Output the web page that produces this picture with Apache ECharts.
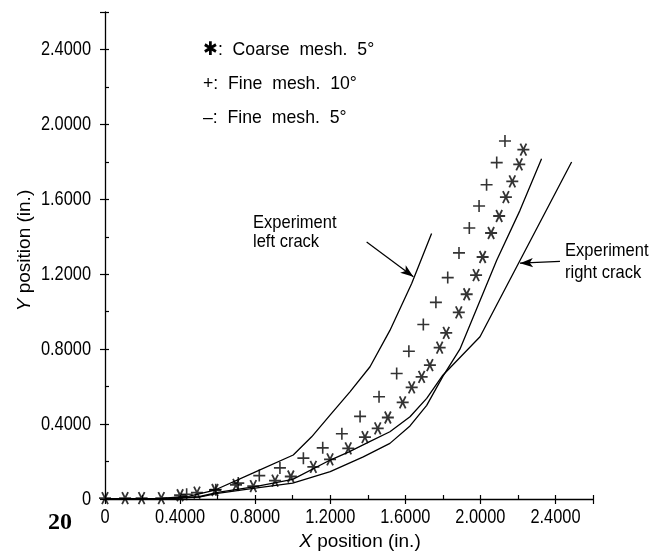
<!DOCTYPE html>
<html>
<head>
<meta charset="utf-8">
<script src="https://cdn.jsdelivr.net/npm/echarts@6/dist/echarts.min.js"></script>
<style>html,body{margin:0;padding:0;background:#fff;}#c{width:665px;height:555px;}</style>
</head>
<body>
<div id="c"></div>
<script>
// ---- data ----
const coarse5X = [0, 0.107, 0.195, 0.30, 0.40, 0.49, 0.586, 0.698, 0.79, 0.906, 0.99, 1.11, 1.199, 1.296, 1.385, 1.453, 1.507, 1.586, 1.634, 1.687, 1.731, 1.783, 1.818, 1.885, 1.927, 1.977, 2.012, 2.057, 2.10, 2.136, 2.17, 2.207, 2.229];
const coarse5Y = [0.005, 0.005, 0.005, 0.005, 0.02, 0.034, 0.048, 0.075, 0.069, 0.098, 0.12, 0.172, 0.212, 0.27, 0.33, 0.377, 0.435, 0.516, 0.596, 0.652, 0.715, 0.808, 0.887, 0.996, 1.093, 1.195, 1.292, 1.42, 1.511, 1.612, 1.696, 1.787, 1.865];

const fine10X = [0.435, 0.59, 0.71, 0.822, 0.932, 1.057, 1.16, 1.262, 1.359, 1.46, 1.554, 1.619, 1.696, 1.763, 1.826, 1.886, 1.941, 1.993, 2.033, 2.087, 2.131];
const fine10Y = [0.025, 0.05, 0.085, 0.125, 0.166, 0.218, 0.273, 0.348, 0.441, 0.546, 0.67, 0.789, 0.932, 1.05, 1.182, 1.314, 1.447, 1.564, 1.678, 1.796, 1.911];

const fine5X = [0, 0.3, 0.5, 0.6, 0.8, 1.0, 1.2, 1.376, 1.518, 1.625, 1.714, 1.80, 1.891, 2.087, 2.211, 2.326];
const fine5Y = [0, 0.0, 0.01, 0.03, 0.058, 0.085, 0.146, 0.225, 0.297, 0.39, 0.50, 0.655, 0.80, 1.275, 1.541, 1.817];

const leftCrackX = [0, 0.3, 0.45, 0.586, 0.79, 1.003, 1.101, 1.199, 1.305, 1.412, 1.518, 1.634, 1.74];
const leftCrackY = [0, 0.003, 0.015, 0.048, 0.139, 0.235, 0.332, 0.448, 0.572, 0.706, 0.90, 1.15, 1.418];

const rightCrackX = [0, 0.3, 0.5, 0.6, 0.8, 1.0, 1.2, 1.3, 1.41, 1.518, 1.625, 1.714, 1.80, 1.998, 2.486];
const rightCrackY = [0, 0.002, 0.012, 0.035, 0.066, 0.105, 0.208, 0.252, 0.306, 0.359, 0.439, 0.537, 0.661, 0.866, 1.799];

// annotation arrows (data coordinates): [fromX, fromY, toX, toY]
const leftArrow = [1.394, 1.372, 1.643, 1.186];
const rightArrow = [2.424, 1.269, 2.211, 1.259];

const tickValues = [0, 0.4, 0.8, 1.2, 1.6, 2.0, 2.4];
const tickLabels = ['0', '0.4000', '0.8000', '1.2000', '1.6000', '2.0000', '2.4000'];
const legendLines = ['Coarse  mesh.  5°', 'Fine  mesh.  10°', 'Fine  mesh.  5°'];
const legendMarks = ['\u2731:', '+:', '\u2013:'];

// ---- helpers ----
const zip = (xs, ys) => xs.map((x, i) => [x, ys[i]]);
const FONT = '"Liberation Sans", Arial, sans-serif';
const STAR = 'path://M-5,0L5,0M-2.5,-4.33L2.5,4.33M-2.5,4.33L2.5,-4.33';
const PLUS = 'path://M-5,0L5,0M0,-5L0,5';

const axisColor = '#000';
const baseAxis = {
  type: 'value', min: 0, max: 2.6, splitLine: { show: false },
  axisLine: { lineStyle: { color: axisColor, width: 1.3 } }
};
const nameStyle = (pad) => ({
  color: '#000', fontFamily: FONT, fontSize: 19, padding: pad,
  rich: { i: { fontStyle: 'italic', fontFamily: FONT, fontSize: 19, color: '#000' } }
});

const chart = echarts.init(document.getElementById('c'), null, { renderer: 'canvas' });
const option = {
  animation: false,
  backgroundColor: '#fff',
  grid: [
    { left: 105, right: 72, top: 12, bottom: 56, outerBoundsMode: 'none', containLabel: false },
    { left: 105, right: 72, top: 12, bottom: 56, outerBoundsMode: 'none', containLabel: false }
  ],
  xAxis: [
    Object.assign({}, baseAxis, {
      gridIndex: 0, interval: 0.4, position: 'bottom',
      axisTick: { length: 5, lineStyle: { color: axisColor, width: 1.2 } },
      axisLabel: { show: false },
      name: '{i|X} position (in.)',
      nameLocation: 'middle', nameGap: 33,
      nameTextStyle: nameStyle([0, 0, 0, 22])
    }),
    Object.assign({}, baseAxis, {
      gridIndex: 1, interval: 0.2, position: 'bottom',
      axisLine: { show: false },
      axisTick: { inside: true, length: 4, lineStyle: { color: axisColor, width: 1.2 } },
      axisLabel: { show: false }
    })
  ],
  yAxis: [
    Object.assign({}, baseAxis, {
      gridIndex: 0, interval: 0.4, position: 'left',
      axisTick: { length: 5, lineStyle: { color: axisColor, width: 1.2 } },
      axisLabel: { show: false },
      name: '{i|Y} position (in.)',
      nameLocation: 'middle', nameGap: 71, nameRotate: 90,
      nameTextStyle: nameStyle([0, 0, 0, 10])
    }),
    Object.assign({}, baseAxis, {
      gridIndex: 1, interval: 0.2, position: 'left',
      axisLine: { show: false },
      axisTick: { inside: true, length: 4, lineStyle: { color: axisColor, width: 1.2 } },
      axisLabel: { show: false }
    })
  ],
  series: [
    {
      name: 'Experiment left crack', type: 'line', xAxisIndex: 0, yAxisIndex: 0,
      data: zip(leftCrackX, leftCrackY), showSymbol: false, symbol: 'none',
      lineStyle: { color: '#000', width: 1.3 }, z: 3,
      markLine: {
        silent: true, symbol: ['none', 'arrow'], symbolSize: [7, 13], precision: 4,
        lineStyle: { color: '#000', width: 1.2, type: 'solid' },
        label: { show: false },
        data: [
          [{ coord: [leftArrow[0], leftArrow[1]] }, { coord: [leftArrow[2], leftArrow[3]] }],
          [{ coord: [rightArrow[0], rightArrow[1]] }, { coord: [rightArrow[2], rightArrow[3]] }]
        ]
      }
    },
    {
      name: 'Experiment right crack', type: 'line', xAxisIndex: 0, yAxisIndex: 0,
      data: zip(rightCrackX, rightCrackY), showSymbol: false, symbol: 'none',
      lineStyle: { color: '#000', width: 1.3 }, z: 3
    },
    {
      name: 'Fine mesh. 5°', type: 'line', xAxisIndex: 0, yAxisIndex: 0,
      data: zip(fine5X, fine5Y), showSymbol: false, symbol: 'none',
      lineStyle: { color: '#000', width: 1.3 }, z: 3
    },
    {
      name: 'Coarse mesh. 5°', type: 'scatter', xAxisIndex: 0, yAxisIndex: 0,
      data: zip(coarse5X, coarse5Y), symbol: STAR, symbolSize: 12,
      itemStyle: { color: 'rgba(0,0,0,0)', borderColor: '#000', borderWidth: 1.8 }, z: 4
    },
    {
      name: 'Fine mesh. 10°', type: 'scatter', xAxisIndex: 0, yAxisIndex: 0,
      data: zip(fine10X, fine10Y), symbol: PLUS, symbolSize: 12,
      itemStyle: { color: 'rgba(0,0,0,0)', borderColor: '#000', borderWidth: 1.6 }, z: 4
    }
  ]
};
chart.setOption(option);

// tick labels placed through the axes' own scales, drawn in a condensed form
const labelFont = '21px ' + FONT;
const SX = 0.78;
const graphics = [];
tickValues.forEach((v, i) => {
  const px = chart.convertToPixel({ xAxisIndex: 0 }, v);
  const axisY = chart.convertToPixel({ yAxisIndex: 0 }, 0);
  graphics.push({ type: 'text', x: px, y: axisY + 8, scaleX: SX, silent: true,
    style: { text: tickLabels[i], x: 0, y: 0, fill: '#000', font: labelFont, textAlign: 'center', textVerticalAlign: 'top' } });
  const py = chart.convertToPixel({ yAxisIndex: 0 }, v);
  const axisX = chart.convertToPixel({ xAxisIndex: 0 }, 0);
  graphics.push({ type: 'text', x: axisX - 14, y: py, scaleX: SX, silent: true,
    style: { text: tickLabels[i], x: 0, y: 0, fill: '#000', font: labelFont, textAlign: 'right', textVerticalAlign: 'middle' } });
});
legendLines.forEach((t, i) => {
  graphics.push({ type: 'text', x: 203, y: 50 + i * 34, scaleX: 0.93, silent: true,
    style: { text: legendMarks[i] + '  ' + t, x: 0, y: 0, fill: '#000', font: '19px ' + FONT, textVerticalAlign: 'middle' } });
});
graphics.push({ type: 'text', x: 253, y: 213, scaleX: 0.87, silent: true,
  style: { text: 'Experiment\nleft crack', x: 0, y: 0, fill: '#000', font: '19px ' + FONT, lineHeight: 19 } });
graphics.push({ type: 'text', x: 565, y: 240, scaleX: 0.87, silent: true,
  style: { text: 'Experiment\nright crack', x: 0, y: 0, fill: '#000', font: '19px ' + FONT, lineHeight: 22 } });
graphics.push({ type: 'text', x: 48, y: 523, silent: true,
  style: { text: '20', x: 0, y: 0, fill: '#000', font: 'bold 24px "Liberation Serif", serif', textVerticalAlign: 'middle' } });
chart.setOption({ graphic: graphics });
</script>
</body>
</html>
